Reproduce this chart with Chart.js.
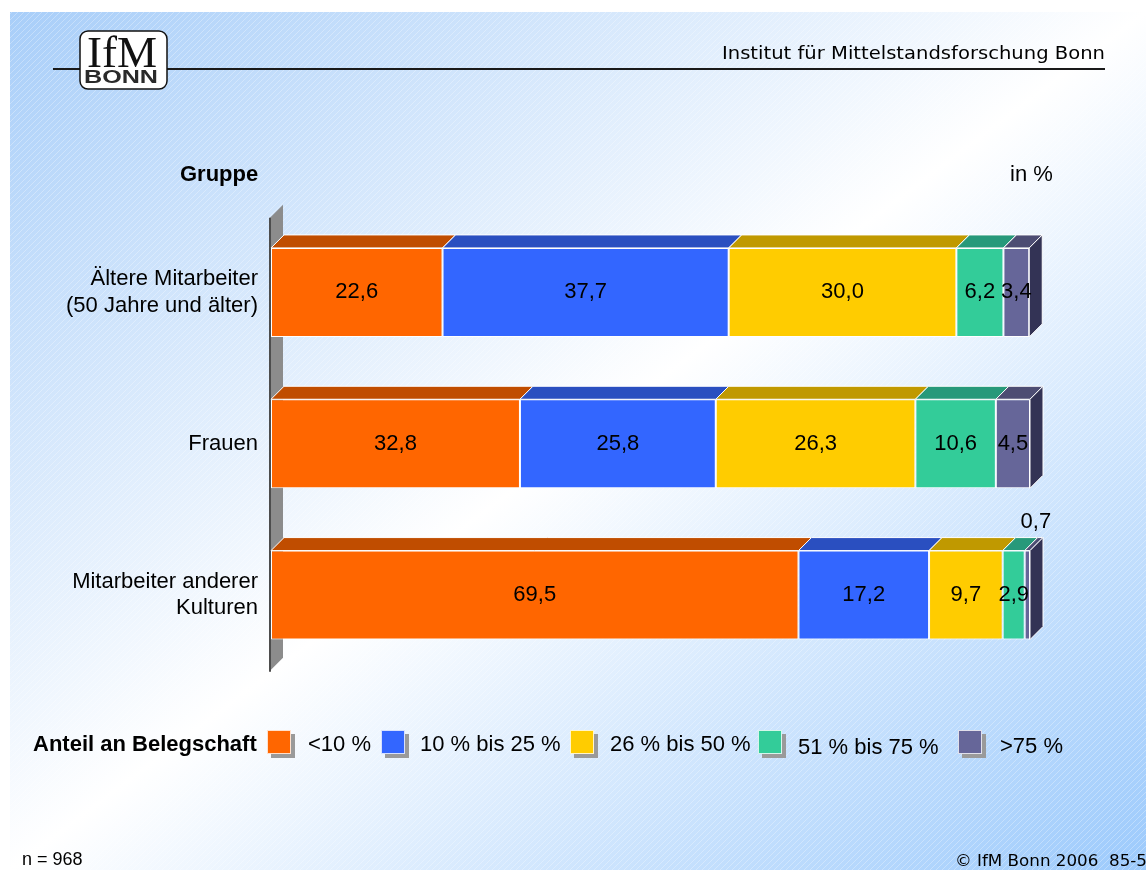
<!DOCTYPE html>
<html lang="de">
<head>
<meta charset="utf-8">
<title>Anteil an Belegschaft</title>
<script src="https://cdn.jsdelivr.net/npm/chart.js@4/dist/chart.umd.min.js"></script>
<style>
  html, body { margin: 0; padding: 0; background: #fff; }
  canvas { display: block; }
</style>
</head>
<body>
<canvas id="chart" width="1146" height="870"></canvas>
<script>
// ---- Daten ----
const GRUPPEN = [['Ältere Mitarbeiter', '(50 Jahre und älter)'], 'Frauen', ['Mitarbeiter anderer', 'Kulturen']];
const KLASSEN = ['<10 %', '10 % bis 25 %', '26 % bis 50 %', '51 % bis 75 %', '>75 %'];
const UNTER_10 = [22.6, 32.8, 69.5];
const BIS_25 = [37.7, 25.8, 17.2];
const BIS_50 = [30.0, 26.3, 9.7];
const BIS_75 = [6.2, 10.6, 2.9];
const UEBER_75 = [3.4, 4.5, 0.7];
const SERIEN = [UNTER_10, BIS_25, BIS_50, BIS_75, UEBER_75];

// ---- Stil ----
const FARBEN = ['#FF6600', '#3366FF', '#FFCC00', '#33CC99', '#666699'];
const DACH = ['#C04D00', '#2A4FC0', '#C09900', '#27997A', '#4D4D73'];
const SEITE = '#333355';
const TIEFE = 13;
const ARIAL = '"Liberation Sans", Arial, Helvetica, sans-serif';
const TAHOMA = '"DejaVu Sans", Verdana, sans-serif';

// Legendenpositionen (Quadrat links, Text links, Text-y)
const LEG_BOX_X = [267, 381, 570, 758, 958];
const LEG_TEXT_X = [308, 420, 610, 798, 1000];
const LEG_TEXT_Y = [751, 751, 751, 754, 753];

const fmt = v => v.toFixed(1).replace('.', ',');

function fitText(ctx, text, x, y, width, align) {
  const m = ctx.measureText(text).width;
  ctx.save();
  ctx.translate(x, y);
  ctx.scale(width / m, 1);
  ctx.textAlign = align;
  ctx.fillText(text, 0, 0);
  ctx.restore();
}

const hintergrund = {
  id: 'hintergrund',
  beforeDraw(chart) {
    const { ctx, width, height } = chart;
    const x0 = 10, y0 = 12, w = width - x0, h = height - y0;
    ctx.save();
    ctx.fillStyle = '#fff';
    ctx.fillRect(0, 0, width, height);
    ctx.translate(x0, y0);
    ctx.scale(w, h);
    const g = ctx.createLinearGradient(0, 0, 1, 1);
    g.addColorStop(0, '#a8cef9');
    g.addColorStop(0.5, '#ffffff');
    g.addColorStop(1, '#9ccafc');
    ctx.fillStyle = g;
    ctx.fillRect(0, 0, 1, 1);
    ctx.restore();

    // feine Schraffur
    ctx.save();
    ctx.beginPath();
    ctx.rect(x0, y0, w, h);
    ctx.clip();
    ctx.strokeStyle = 'rgba(255,255,255,0.3)';
    ctx.lineWidth = 1;
    ctx.beginPath();
    for (let s = -height; s < width + height; s += 6) {
      ctx.moveTo(s, height);
      ctx.lineTo(s + height, 0);
    }
    ctx.stroke();
    ctx.restore();

    // Kopfzeile
    ctx.save();
    ctx.strokeStyle = '#1a1a1a';
    ctx.lineWidth = 2;
    ctx.beginPath();
    ctx.moveTo(53, 69);
    ctx.lineTo(1105, 69);
    ctx.stroke();
    ctx.fillStyle = '#000';
    ctx.textBaseline = 'alphabetic';
    ctx.font = '18px ' + TAHOMA;
    fitText(ctx, 'Institut für Mittelstandsforschung Bonn', 1105, 59, 383, 'right');

    // Logo
    ctx.beginPath();
    ctx.roundRect(80, 31, 87, 58, 8);
    ctx.fillStyle = '#fff';
    ctx.fill();
    ctx.lineWidth = 1.5;
    ctx.strokeStyle = '#111';
    ctx.stroke();
    ctx.fillStyle = '#111';
    ctx.font = '44px "Liberation Serif", "Times New Roman", serif';
    fitText(ctx, 'IfM', 122, 67, 70, 'center');
    ctx.fillStyle = '#2a2a2a';
    ctx.font = 'bold 18px ' + ARIAL;
    fitText(ctx, 'BONN', 121, 83, 74, 'center');

    // Fußzeile
    ctx.fillStyle = '#000';
    ctx.font = '18px ' + ARIAL;
    ctx.textAlign = 'left';
    ctx.fillText('n = 968', 22, 865);
    ctx.font = '15px ' + TAHOMA;
    fitText(ctx, '© IfM Bonn 2006  85-5', 955, 866, 192, 'left');

    // Achsentitel
    ctx.font = 'bold 22px ' + ARIAL;
    ctx.textAlign = 'left';
    ctx.fillText('Gruppe', 180, 181);
    ctx.font = '22px ' + ARIAL;
    ctx.fillText('in %', 1010, 181);
    ctx.restore();
  },
  beforeDatasetsDraw(chart) {
    // graue Seitenwand
    const { ctx, chartArea } = chart;
    const x = chartArea.left - 1, top = chartArea.top + 1, bottom = chartArea.bottom;
    ctx.save();
    ctx.fillStyle = '#8c8c8c';
    ctx.beginPath();
    ctx.moveTo(x, top);
    ctx.lineTo(x + TIEFE, top - TIEFE);
    ctx.lineTo(x + TIEFE, bottom - TIEFE);
    ctx.lineTo(x, bottom);
    ctx.closePath();
    ctx.fill();
    ctx.strokeStyle = '#4d4d4d';
    ctx.lineWidth = 2;
    ctx.beginPath();
    ctx.moveTo(x, top);
    ctx.lineTo(x, bottom + 1);
    ctx.stroke();
    ctx.restore();
  },
  afterDatasetsDraw(chart) {
    const { ctx } = chart;
    const n = chart.data.datasets.length;
    ctx.save();
    ctx.strokeStyle = '#fff';
    ctx.lineWidth = 1;
    chart.data.datasets.forEach((ds, i) => {
      chart.getDatasetMeta(i).data.forEach(bar => {
        const { x, y, base, height } = bar.getProps(['x', 'y', 'base', 'height'], true);
        const top = y - height / 2, bottom = y + height / 2;
        ctx.fillStyle = DACH[i];
        ctx.beginPath();
        ctx.moveTo(base, top);
        ctx.lineTo(base + TIEFE, top - TIEFE);
        ctx.lineTo(x + TIEFE, top - TIEFE);
        ctx.lineTo(x, top);
        ctx.closePath();
        ctx.fill();
        ctx.stroke();
        if (i === n - 1) {
          ctx.fillStyle = SEITE;
          ctx.beginPath();
          ctx.moveTo(x, top);
          ctx.lineTo(x + TIEFE, top - TIEFE);
          ctx.lineTo(x + TIEFE, bottom - TIEFE);
          ctx.lineTo(x, bottom);
          ctx.closePath();
          ctx.fill();
          ctx.stroke();
        }
      });
    });

    // Werte
    ctx.fillStyle = '#000';
    ctx.font = '22px ' + ARIAL;
    ctx.textAlign = 'center';
    ctx.textBaseline = 'middle';
    chart.data.datasets.forEach((ds, i) => {
      chart.getDatasetMeta(i).data.forEach((bar, j) => {
        const { x, y, base, height } = bar.getProps(['x', 'y', 'base', 'height'], true);
        const v = ds.data[j];
        if (v >= 1) {
          ctx.fillText(fmt(v), (x + base) / 2, y);
        } else {
          ctx.fillText(fmt(v), (x + base) / 2 + TIEFE / 2 + 2, y - height / 2 - TIEFE - 16);
        }
      });
    });
    ctx.restore();
  },
  afterDraw(chart) {
    // Legende
    const { ctx } = chart;
    ctx.save();
    ctx.fillStyle = '#000';
    ctx.font = 'bold 22px ' + ARIAL;
    ctx.textAlign = 'left';
    ctx.textBaseline = 'alphabetic';
    ctx.fillText('Anteil an Belegschaft', 33, 751);
    ctx.font = '22px ' + ARIAL;
    KLASSEN.forEach((k, i) => {
      const bx = LEG_BOX_X[i], by = 730, s = 24;
      ctx.fillStyle = '#9a9a9a';
      ctx.fillRect(bx + 4, by + 4, s, s);
      ctx.fillStyle = FARBEN[i];
      ctx.fillRect(bx, by, s, s);
      ctx.strokeStyle = 'rgba(255,255,255,0.8)';
      ctx.lineWidth = 1;
      ctx.strokeRect(bx + 0.5, by + 0.5, s - 1, s - 1);
      ctx.fillStyle = '#000';
      ctx.fillText(k, LEG_TEXT_X[i], LEG_TEXT_Y[i]);
    });
    ctx.restore();
  }
};

new Chart(document.getElementById('chart'), {
  type: 'bar',
  data: {
    labels: GRUPPEN,
    datasets: SERIEN.map((werte, i) => ({
      label: KLASSEN[i],
      data: werte,
      backgroundColor: FARBEN[i],
      borderColor: '#ffffff',
      borderWidth: 1,
      borderSkipped: false,
      categoryPercentage: 1,
      barPercentage: 0.588,
    })),
  },
  options: {
    indexAxis: 'y',
    responsive: false,
    animation: false,
    events: [],
    layout: { padding: { top: 216.75, bottom: 199.25, left: 0, right: 116 } },
    plugins: { legend: { display: false }, tooltip: { enabled: false }, title: { display: false } },
    scales: {
      x: { stacked: true, min: 0, max: 100, display: false },
      y: {
        stacked: true,
        grid: { display: false, drawTicks: false },
        border: { display: false },
        ticks: {
          color: '#000',
          padding: 13,
          font: { size: 22, family: ARIAL, lineHeight: 1.2 },
        },
        afterFit(s) { s.width = 271; },
      },
    },
  },
  plugins: [hintergrund],
});
</script>
</body>
</html>
